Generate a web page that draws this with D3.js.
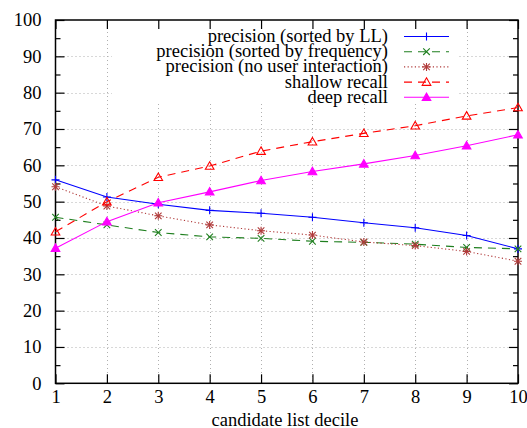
<!DOCTYPE html>
<html>
<head>
<meta charset="utf-8">
<script src="https://cdn.jsdelivr.net/npm/d3@7"></script>
<style>
  body { margin: 0; background: #fff; }
</style>
</head>
<body>
<div id="chart"></div>
<script>
const deciles = [1, 2, 3, 4, 5, 6, 7, 8, 9, 10];
const precisionLL = [56.0, 51.3, 49.3, 47.6, 46.8, 45.7, 44.2, 42.8, 40.7, 37.0];
const precisionFreq = [45.7, 43.6, 41.5, 40.3, 39.9, 39.1, 38.8, 38.3, 37.4, 37.0];
const precisionNoUser = [54.1, 48.8, 46.1, 43.6, 42.0, 40.8, 38.9, 37.9, 36.3, 33.6];
const shallowRecall = [41.7, 50.0, 56.7, 59.8, 63.9, 66.5, 68.8, 70.9, 73.6, 75.9];
const deepRecall = [37.2, 44.5, 49.7, 52.7, 55.8, 58.3, 60.4, 62.7, 65.4, 68.4];
const yTicks = [0, 10, 20, 30, 40, 50, 60, 70, 80, 90, 100];
const yMinorTicks = [5, 15, 25, 35, 45, 55, 65, 75, 85, 95];
const xLabel = "candidate list decile";

const series = [
  { name: "precision (sorted by LL)", values: precisionLL, color: "#0000ff", dash: null, marker: "plus" },
  { name: "precision (sorted by frequency)", values: precisionFreq, color: "#1f7f1f", dash: "8,6", marker: "cross" },
  { name: "precision (no user interaction)", values: precisionNoUser, color: "#b03a3a", dash: "1.2,2.4", marker: "star" },
  { name: "shallow recall", values: shallowRecall, color: "#ff0000", dash: "8,6", marker: "openTri" },
  { name: "deep recall", values: deepRecall, color: "#ff00ff", dash: null, marker: "fillTri" },
];

const W = 527, H = 428;
const plot = { left: 55.5, right: 518, top: 20, bottom: 383.3 };
const serif = '"Liberation Serif", "Times New Roman", serif';
const fontSize = 18.5;

const svg = d3.select("#chart").append("svg").attr("width", W).attr("height", H);

const xScale = d3.scaleLinear().domain([1, 10]).range([plot.left, plot.right]);
const yScale = d3.scaleLinear().domain([0, 100]).range([plot.bottom, plot.top]);

// grid
const grid = svg.append("g").attr("stroke", "#b0b0b0").attr("stroke-width", 1).attr("stroke-dasharray", "1,3");
grid.selectAll("line.gx")
  .data(deciles.slice(1, -1))
  .enter().append("line")
  .attr("x1", (d) => Math.round(xScale(d)) + 0.5).attr("x2", (d) => Math.round(xScale(d)) + 0.5)
  .attr("y1", plot.top).attr("y2", plot.bottom);
grid.selectAll("line.gy")
  .data(yTicks.slice(1, -1))
  .enter().append("line")
  .attr("y1", (d) => Math.round(yScale(d)) + 0.5).attr("y2", (d) => Math.round(yScale(d)) + 0.5)
  .attr("x1", plot.left).attr("x2", plot.right);

// opaque key box
svg.append("rect").attr("x", 112).attr("y", plot.top).attr("width", 345).attr("height", 84).attr("fill", "#fff");

// axes with inward ticks
const axisLeftG = svg.append("g").attr("transform", `translate(${plot.left},0)`)
  .call(d3.axisLeft(yScale).tickValues(yTicks).tickSize(-9).tickPadding(14));
const axisRightG = svg.append("g").attr("transform", `translate(${plot.right},0)`)
  .call(d3.axisRight(yScale).tickValues(yTicks).tickSize(-9).tickFormat(""));
const minorLeftG = svg.append("g").attr("transform", `translate(${plot.left},0)`)
  .call(d3.axisLeft(yScale).tickValues(yMinorTicks).tickSize(-5).tickFormat(""));
const minorRightG = svg.append("g").attr("transform", `translate(${plot.right},0)`)
  .call(d3.axisRight(yScale).tickValues(yMinorTicks).tickSize(-5).tickFormat(""));
const axisBottomG = svg.append("g").attr("transform", `translate(0,${plot.bottom})`)
  .call(d3.axisBottom(xScale).tickValues(deciles).tickSize(-9).tickPadding(7));
const axisTopG = svg.append("g").attr("transform", `translate(0,${plot.top})`)
  .call(d3.axisTop(xScale).tickValues(deciles).tickSize(-9).tickFormat(""));

[axisLeftG, axisRightG, minorLeftG, minorRightG, axisBottomG, axisTopG].forEach((g) => {
  g.select(".domain").remove();
  g.selectAll("line").attr("stroke", "#000").attr("stroke-width", 1.2);
  g.selectAll("text").style("font-size", fontSize + "px").style("font-family", serif).attr("fill", "#000");
});

svg.append("rect")
  .attr("x", plot.left).attr("y", plot.top)
  .attr("width", plot.right - plot.left).attr("height", plot.bottom - plot.top)
  .attr("fill", "none").attr("stroke", "#000").attr("stroke-width", 1.5);

svg.append("text")
  .attr("x", 285).attr("y", 425.5)
  .attr("text-anchor", "middle")
  .style("font-size", fontSize + "px").style("font-family", serif)
  .text(xLabel);

// markers
const drawMarker = (g, type, x, y, color) => {
  const s = 4;
  if (type === "plus" || type === "star") {
    g.append("path").attr("d", `M${x - s},${y}H${x + s}M${x},${y - s}V${y + s}`)
      .attr("stroke", color).attr("stroke-width", 1.1).attr("fill", "none");
  }
  if (type === "cross" || type === "star") {
    const c = 3.3;
    g.append("path").attr("d", `M${x - c},${y - c}L${x + c},${y + c}M${x - c},${y + c}L${x + c},${y - c}`)
      .attr("stroke", color).attr("stroke-width", 1.1).attr("fill", "none");
  }
  if (type === "openTri" || type === "fillTri") {
    const r = 4.3;
    g.append("path").attr("d", `M${x},${y - r}L${x + r},${y + r * 0.75}L${x - r},${y + r * 0.75}Z`)
      .attr("stroke", color).attr("stroke-width", 1.1)
      .attr("fill", type === "fillTri" ? color : "none");
  }
};

const line = d3.line().x((d, i) => xScale(deciles[i])).y((d) => yScale(d));

series.forEach((s) => {
  const g = svg.append("g");
  g.append("path").datum(s.values).attr("d", line)
    .attr("fill", "none").attr("stroke", s.color).attr("stroke-width", 1.1)
    .attr("stroke-dasharray", s.dash);
  s.values.forEach((v, i) => drawMarker(g, s.marker, xScale(deciles[i]), yScale(v), s.color));
});

// key
const key = svg.append("g");
series.forEach((s, i) => {
  const y = 36.5 + i * 15.2;
  key.append("text").attr("x", 388).attr("y", y + 5.5)
    .attr("text-anchor", "end")
    .style("font-size", fontSize + "px").style("font-family", serif)
    .text(s.name);
  key.append("line").attr("x1", 404).attr("x2", 449).attr("y1", y).attr("y2", y)
    .attr("stroke", s.color).attr("stroke-width", 1.1).attr("stroke-dasharray", s.dash);
  drawMarker(key, s.marker, 426.5, y, s.color);
});
</script>
</body>
</html>
